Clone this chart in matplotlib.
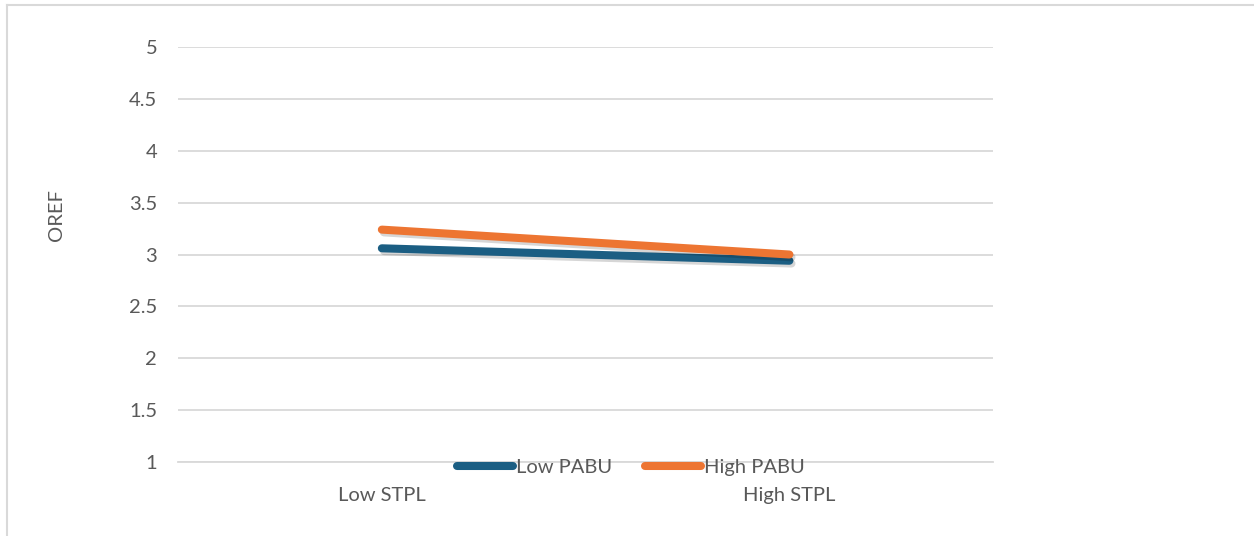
import matplotlib.pyplot as plt
import matplotlib.patheffects as pe
from matplotlib.lines import Line2D

# Interaction data: OREF by STPL level for low/high PABU
categories = ["Low STPL", "High STPL"]
low_pabu = [3.06, 2.94]
high_pabu = [3.24, 3.00]
series_names = ["Low PABU", "High PABU"]

plt.rcParams['font.family'] = ['Lato', 'DejaVu Sans']
text_color = "#595959"
grid_color = "#d9d9d9"
colors = ["#1b5e83", "#ed7532"]
fs = 14.5

fig = plt.figure(figsize=(12.54, 5.36), dpi=100)
ax = fig.add_axes([0.142, 0.138, 0.650, 0.7743])

x = range(len(categories))
shadow = [pe.SimpleLineShadow(offset=(1.5, -2), shadow_color="#000000", alpha=0.16),
          pe.Normal()]
for vals, name, c in zip([low_pabu, high_pabu], series_names, colors):
    ax.plot(x, vals, color=c, lw=5.8, solid_capstyle='round', label=name,
            path_effects=shadow, zorder=3)

ax.set_xlim(-0.5, 1.5)
ax.set_ylim(1, 5)
ax.set_yticks([1, 1.5, 2, 2.5, 3, 3.5, 4, 4.5, 5])
ax.set_yticklabels(["1", "1.5", "2", "2.5", "3", "3.5", "4", "4.5", "5"])
ax.set_xticks(list(x))
ax.set_xticklabels(categories)
ax.tick_params(axis='both', length=0, labelsize=fs, colors=text_color)
ax.tick_params(axis='y', pad=15)
ax.tick_params(axis='x', pad=18)
ax.yaxis.grid(True, color=grid_color, lw=1.3)
ax.set_axisbelow(True)
for side in ['top', 'right', 'left']:
    ax.spines[side].set_visible(False)
ax.spines['bottom'].set_color(grid_color)
ax.spines['bottom'].set_linewidth(1.3)

ax.set_ylabel("OREF", fontsize=fs, color=text_color)
ax.yaxis.set_label_coords(-0.139, 0.595)

handles = [Line2D([0], [0], color=c, lw=5.8, solid_capstyle='round') for c in colors]
fig.legend(handles, series_names, loc='center', bbox_to_anchor=(0.503, 0.128),
           ncol=2, frameon=False, fontsize=fs, handlelength=2.8, handletextpad=0.15,
           columnspacing=1.6, labelcolor=text_color, borderpad=0)

# outer chart border (only top and left edges are in frame)
fig.add_artist(Line2D([0.0052, 1.0], [0.9907, 0.9907], color=grid_color, lw=1.5,
                      transform=fig.transFigure))
fig.add_artist(Line2D([0.0052, 0.0052], [0.0, 0.9907], color=grid_color, lw=1.5,
                      transform=fig.transFigure))

fig.savefig("out.png", dpi=100)
